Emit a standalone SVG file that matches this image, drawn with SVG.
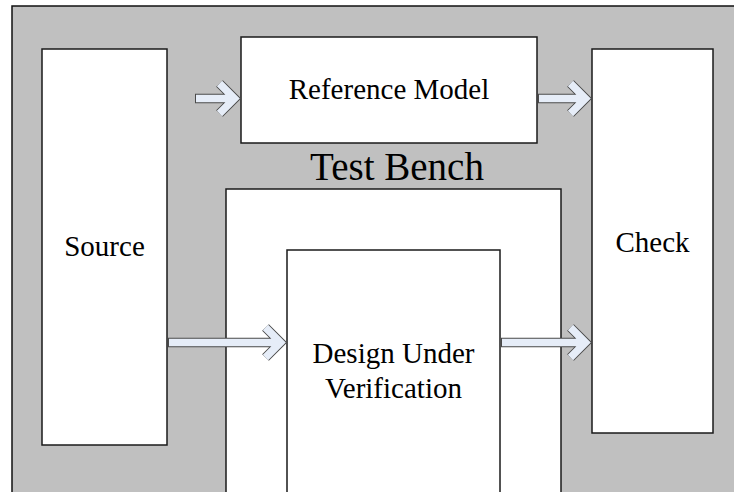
<svg xmlns="http://www.w3.org/2000/svg" width="734" height="492" viewBox="0 0 734 492">
<style>
.box{fill:#fff;stroke:#1a1a1a;stroke-width:1.5}
.lbl{font-family:"Liberation Serif","Times New Roman",serif;font-size:29px;fill:#000;text-anchor:middle}
.out{fill:none;stroke:#4a4a4a;stroke-width:9.5;stroke-linejoin:miter;stroke-miterlimit:10}
.inn{fill:none;stroke:#e6edf8;stroke-width:7.5;stroke-linejoin:miter;stroke-miterlimit:10}
</style>
<rect x="0" y="0" width="734" height="492" fill="#fff"/>
<rect id="frame" x="12" y="6" width="740" height="500" fill="#c0c0c0" stroke="#111" stroke-width="1.5"/>
<g id="testbench">
<rect class="box" x="226" y="189" width="335" height="320"/>
<text x="397" y="180" class="lbl" style="font-size:39px">Test Bench</text>
</g>
<g id="source">
<rect class="box" x="42" y="49" width="125" height="396"/>
<text x="104.5" y="256" class="lbl">Source</text>
</g>
<g id="refmodel">
<rect class="box" x="241" y="37" width="296" height="106"/>
<text x="389" y="99" class="lbl">Reference Model</text>
</g>
<g id="check">
<rect class="box" x="592" y="49" width="121" height="384"/>
<text x="652.5" y="252" class="lbl">Check</text>
</g>
<g id="duv">
<rect class="box" x="287" y="250" width="213" height="260"/>
<text x="393.5" y="363" class="lbl">Design Under</text>
<text x="393.5" y="398" class="lbl">Verification</text>
</g>
<g id="connectors">
<path class="out" d="M195,98.5H234M219.5,83.5L234.5,98.5L219.5,113.5"/>
<path class="inn" d="M196,98.5H234M219.5,83.5L234.5,98.5L219.5,113.5"/>
<path class="out" d="M538,98.5H585M570.5,83.5L585.5,98.5L570.5,113.5"/>
<path class="inn" d="M539,98.5H585M570.5,83.5L585.5,98.5L570.5,113.5"/>
<path class="out" d="M168,342.5H280M265.5,327.5L280.5,342.5L265.5,357.5"/>
<path class="inn" d="M169,342.5H280M265.5,327.5L280.5,342.5L265.5,357.5"/>
<path class="out" d="M501,342.5H585M570.5,327.5L585.5,342.5L570.5,357.5"/>
<path class="inn" d="M502,342.5H585M570.5,327.5L585.5,342.5L570.5,357.5"/>
</g>
</svg>
